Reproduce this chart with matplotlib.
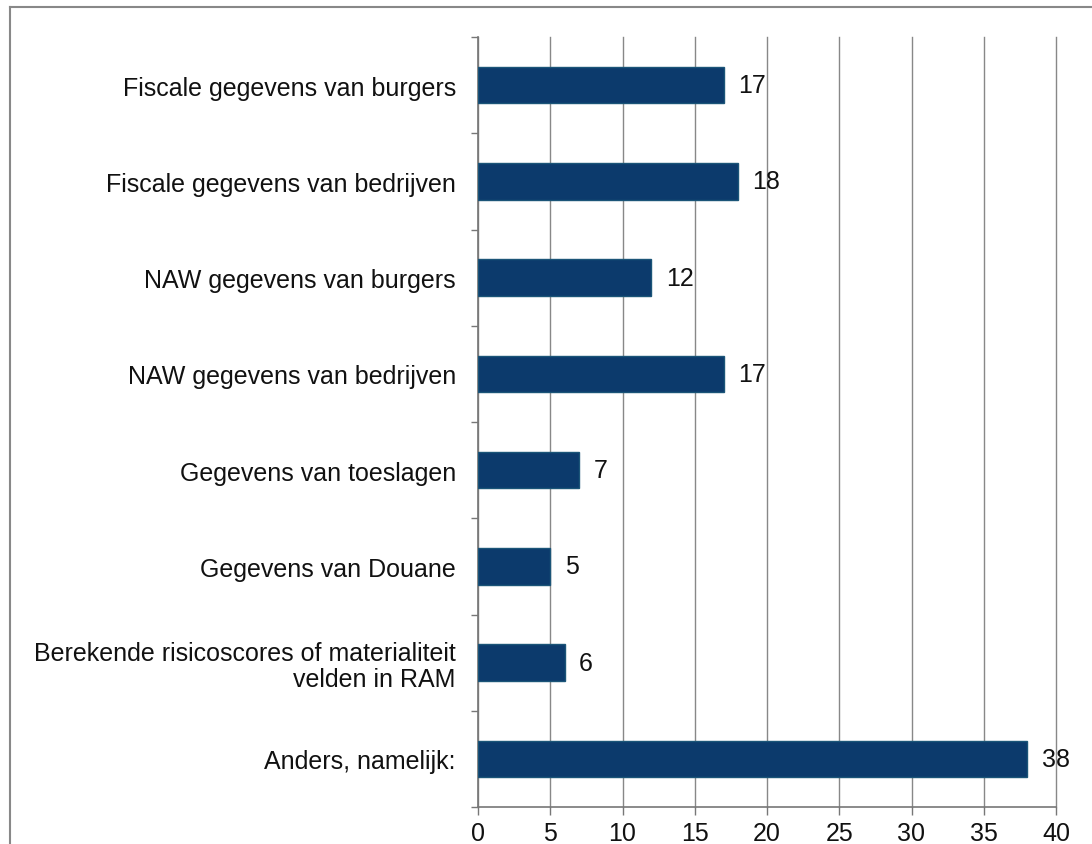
import matplotlib
matplotlib.use("Agg")
import matplotlib.pyplot as plt
from matplotlib.lines import Line2D
import numpy as np

categories = [
    "Fiscale gegevens van burgers",
    "Fiscale gegevens van bedrijven",
    "NAW gegevens van burgers",
    "NAW gegevens van bedrijven",
    "Gegevens van toeslagen",
    "Gegevens van Douane",
    "Berekende risicoscores of materialiteit\nvelden in RAM",
    "Anders, namelijk:",
]
values = [17, 18, 12, 17, 7, 5, 6, 38]
xticks = [0, 5, 10, 15, 20, 25, 30, 35, 40]

plt.rcParams['font.family'] = ['Liberation Sans', 'DejaVu Sans']
FS = 18

fig = plt.figure(figsize=(10.92, 8.45), dpi=100)
ax = fig.add_axes([478/1092, 1-808/845, (1056-478)/1092, (808-38)/845])

n = len(categories)
y = np.arange(n)
ax.barh(y, values, height=0.38, color='#0c3a6c', edgecolor='#1b5578', linewidth=1.0, zorder=3)
ax.set_ylim(n - 0.5, -0.5)
ax.set_xlim(0, 40)

for yi, v in zip(y, values):
    ax.text(v + 1.0, yi, str(v), va='center', ha='left', fontsize=FS, color='#111111', zorder=4)

ax.set_yticks(y)
ax.set_yticklabels(categories, fontsize=FS, color='#111111', ha='right', linespacing=1.1)
ax.tick_params(axis='y', which='major', length=0, pad=16)
ax.set_yticks(np.arange(-0.5, n, 1.0), minor=True)
ax.tick_params(axis='y', which='minor', length=5, width=1, color='#777777', direction='out')

ax.set_xticks(xticks)
ax.set_xticklabels([str(t) for t in xticks], fontsize=FS, color='#111111')
ax.tick_params(axis='x', which='major', length=6, width=1, color='#777777', pad=4)

ax.grid(axis='x', color='#888888', linewidth=1.0, zorder=0)
for gl in ax.get_xgridlines():
    gl.set_clip_on(False)
ax.set_axisbelow(True)
for s in ['top', 'right']:
    ax.spines[s].set_visible(False)
ax.spines['left'].set_color('#777777')
ax.spines['bottom'].set_color('#777777')
ax.spines['left'].set_linewidth(1.2)
ax.spines['bottom'].set_linewidth(1.2)

# outer frame (top and left edges visible in the reference)
fig.add_artist(Line2D([10/1092, 10/1092], [0, 1 - 8/845], transform=fig.transFigure,
                      color='#888888', linewidth=1.5))
fig.add_artist(Line2D([10/1092, 1], [1 - 8/845, 1 - 8/845], transform=fig.transFigure,
                      color='#888888', linewidth=1.5))

fig.savefig('out.png', dpi=100)
